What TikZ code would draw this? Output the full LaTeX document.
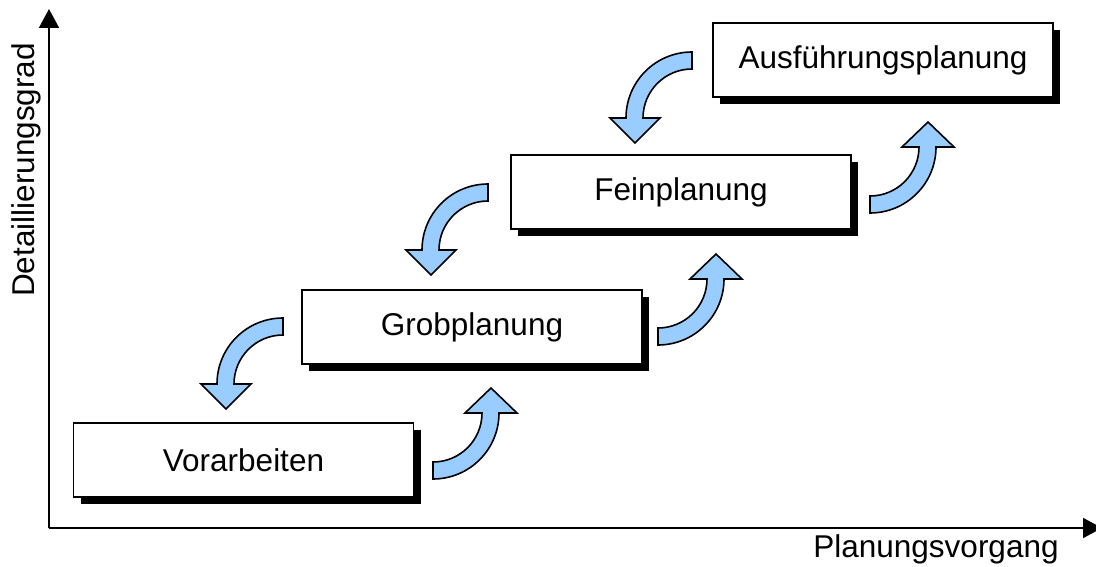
\documentclass[tikz,border=0pt]{standalone}
\usepackage{fontspec}
\setmainfont{Liberation Sans}
\usetikzlibrary{arrows.meta,shadows}
\definecolor{arrowblue}{RGB}{153,204,255}
\begin{document}
\begin{tikzpicture}[x=1pt,y=-1pt,
  phase/.style={draw=black, line width=1.6pt, fill=white,
    minimum width=340pt, minimum height=74pt, inner sep=0pt,
    font=\fontsize{31.5}{36}\selectfont,
    drop shadow={shadow xshift=7pt, shadow yshift=-7pt, opacity=1, fill=black}},
  axis/.style={line width=1.9pt, -{Triangle[length=19pt,width=20pt]}},
  axislabel/.style={font=\fontsize{31.5}{36}\selectfont, inner sep=0pt},
  bentarrow/.style={draw=black, line width=1.6pt, fill=arrowblue, line join=miter},
  uparrow/.pic={
    \path[bentarrow] (0,66) arc[start angle=90, end angle=0, radius=66]
      -- (84,0) -- (58,-25) -- (32,0) -- (49,0)
      arc[start angle=0, end angle=90, radius=49] -- cycle;
  },
  downarrow/.pic={
    \path[bentarrow] (0,-66) arc[start angle=-90, end angle=-180, radius=66]
      -- (-82,0) -- (-57,25) -- (-32,0) -- (-49,0)
      arc[start angle=-180, end angle=-90, radius=49] -- cycle;
  }]
\useasboundingbox (0,0) rectangle (1096,567);

% axes
\coordinate (O) at (49,528);
\coordinate (Ytop) at (49,9);
\coordinate (Xend) at (1102,528);
\draw[axis] (O) -- (Ytop);
\draw[axis] (O) -- (Xend);
\node[axislabel, rotate=90] (ylabel) at (26,170) {Detaillierungsgrad};
\node[axislabel] (xlabel) at (936,549) {Planungsvorgang};

% planning phases
\node[phase] (vor)  at (243.5,460) {Vorarbeiten};
\node[phase] (grob) at (472,327)   {Grobplanung};
\node[phase] (fein) at (681,192)   {Feinplanung};
\node[phase] (ausf) at (883,60)    {Ausführungsplanung};

% forward steps
\pic at (433,413) {uparrow};
\pic at (658,279) {uparrow};
\pic at (870,147) {uparrow};

% feedback steps
\pic at (283,384) {downarrow};
\pic at (488,250) {downarrow};
\pic at (692,118) {downarrow};
\end{tikzpicture}
\end{document}
